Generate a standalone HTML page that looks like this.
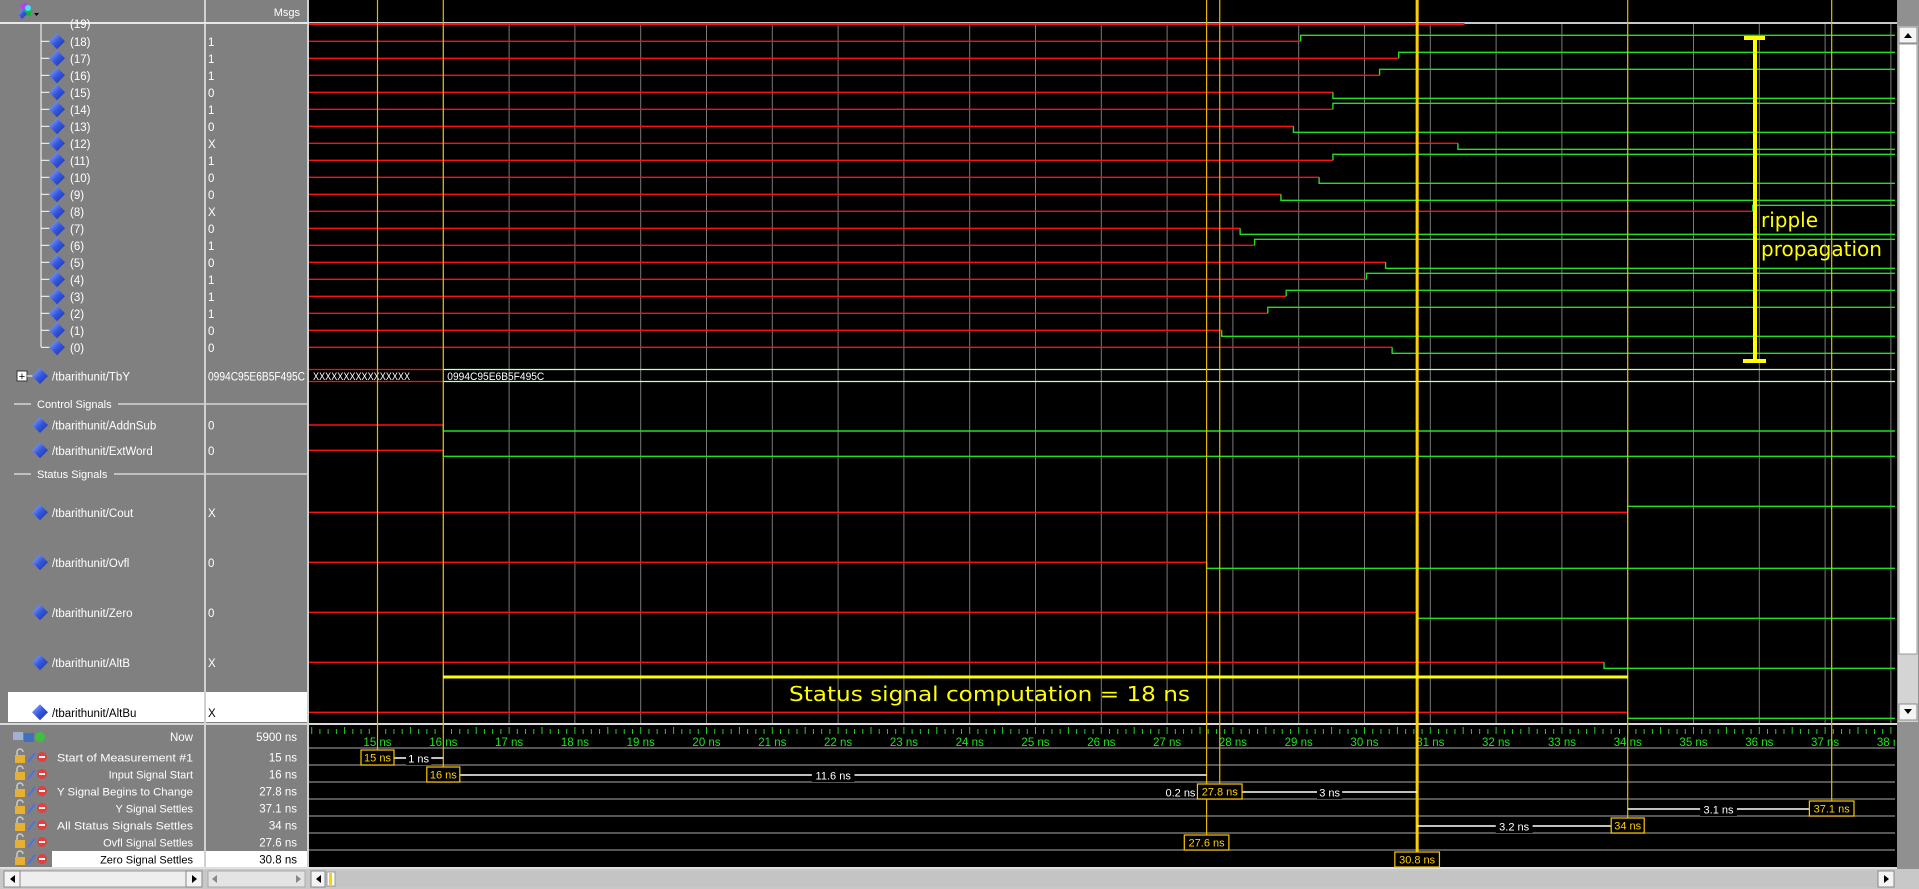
<!DOCTYPE html>
<html><head><meta charset="utf-8"><style>
html,body{margin:0;padding:0;background:#808080;width:1919px;height:889px;overflow:hidden}
svg{display:block}
text{font-family:"Liberation Sans",sans-serif}
</style></head><body>
<svg id="root" width="1919" height="889" viewBox="0 0 1919 889" xmlns="http://www.w3.org/2000/svg">
<defs>
<linearGradient id="dg" x1="0" y1="0" x2="1" y2="1"><stop offset="0" stop-color="#9fb8ff"/><stop offset="0.5" stop-color="#3558e0"/><stop offset="1" stop-color="#1a2f9a"/></linearGradient>
<clipPath id="wclip"><rect x="309" y="0" width="1586" height="889"/></clipPath>
</defs>
<rect x="0" y="0" width="1919" height="889" fill="#808080"/>
<rect x="204" y="0" width="2" height="869" fill="#d0d0d0"/>
<rect x="307" y="0" width="2" height="869" fill="#d0d0d0"/>
<rect x="309" y="0" width="1588" height="868" fill="#000"/>
<rect x="0" y="22" width="309" height="2" fill="#e8e8e8"/>
<rect x="309" y="22" width="1588" height="2" fill="#c8c8c8"/>
<rect x="0" y="723" width="1897" height="2" fill="#d8d8d8"/>
<rect x="0" y="867" width="1919" height="2" fill="#e0e0e0"/>
<g>
<polygon points="20,6 26,2 30,8 24,12" fill="#b040ff"/><rect x="24" y="9" width="7" height="7" fill="#20b040"/><circle cx="28" cy="8" r="3" fill="#40e0ff"/><polygon points="18,14 22,9 27,14 22,19" fill="url(#dg)"/><polygon points="34,13 39,13 36.5,16" fill="#000"/>
</g>
<text x="300" y="16" font-size="11" fill="#fff" text-anchor="end">Msgs</text>
<rect x="8" y="692" width="196" height="30" fill="#fff"/>
<rect x="206" y="692" width="101" height="30" fill="#fff"/>
<rect x="52" y="851" width="152" height="16" fill="#fff"/>
<rect x="206" y="851" width="101" height="16" fill="#fff"/>
<g id="names"></g>
<g id="waves" clip-path="url(#wclip)"></g>
<g id="cursors"></g>
<g>
<rect x="1753" y="38" width="4" height="323" fill="#ffff00"/>
<rect x="1744" y="36" width="21" height="4" fill="#ffff00"/>
<rect x="1743" y="359" width="23" height="4" fill="#ffff00"/>
<text x="1761" y="227" font-size="20" fill="#ffff00" style="font-family:'DejaVu Sans',sans-serif">ripple</text>
<text x="1761" y="256" font-size="20" fill="#ffff00" style="font-family:'DejaVu Sans',sans-serif">propagation</text>
</g>
<g>
<rect x="443" y="675.5" width="1185" height="3" fill="#ffff00"/>
<text x="789" y="701" font-size="20" fill="#ffff00" textLength="401" lengthAdjust="spacingAndGlyphs" style="font-family:'DejaVu Sans',sans-serif">Status signal computation = 18 ns</text>
</g>
<g>
<rect x="1897" y="0" width="22" height="869" fill="#909090"/>
<rect x="1898" y="26" width="20" height="696" fill="#d4d4d4"/>
<rect x="1899" y="27" width="18" height="16" fill="#f4f4f4" stroke="#888"/>
<polygon points="1904,38 1912,38 1908,33" fill="#000"/>
<rect x="1899" y="44" width="18" height="610" fill="#fff" stroke="#999"/>
<rect x="1899" y="704" width="18" height="16" fill="#f4f4f4" stroke="#888"/>
<polygon points="1904,709 1912,709 1908,714" fill="#000"/>
</g>
<g>
<rect x="0" y="869" width="1919" height="20" fill="#c8c8c8"/>
<rect x="4" y="871" width="198" height="16" fill="#eee" stroke="#999"/>
<rect x="4" y="871" width="16" height="16" fill="#f4f4f4" stroke="#888"/><polygon points="15,875 15,883 10,879" fill="#000"/>
<rect x="186" y="871" width="16" height="16" fill="#f4f4f4" stroke="#888"/><polygon points="192,875 192,883 197,879" fill="#000"/>
<rect x="208" y="871" width="97" height="16" fill="#e4e4e4" stroke="#aaa"/>
<polygon points="217,875 217,883 212,879" fill="#888"/><polygon points="296,875 296,883 301,879" fill="#888"/>
<rect x="311" y="871" width="1584" height="16" fill="#c4c4c4"/>
<rect x="311" y="871" width="14" height="16" fill="#f4f4f4" stroke="#888"/><polygon points="321,875 321,883 316,879" fill="#000"/>
<rect x="327" y="872" width="8" height="14" fill="#fff" stroke="#999"/><rect x="329" y="873" width="3" height="12" fill="#ffd000"/>
<rect x="1878" y="871" width="16" height="16" fill="#f4f4f4" stroke="#888"/><polygon points="1884,875 1884,883 1889,879" fill="#000"/>
</g>
</svg>
<script>
const bitIndex = [18,17,16,15,14,13,12,11,10,9,8,7,6,5,4,3,2,1,0];
const bitValues = ['1','1','1','0','1','0','X','1','0','0','X','0','1','0','1','1','1','0','0'];
const bitSettleTimes = [29.03,30.52,30.23,29.52,29.52,28.92,31.42,29.52,29.31,28.73,35.9,28.11,28.33,30.32,30.03,28.81,28.53,27.83,30.42];
const bitFinalLevels = [1,1,1,0,1,0,0,1,0,0,1,0,1,0,1,1,1,0,0];
const bit19EndTime = 31.52;
const busStartTime = 16;
const busOldValue = 'XXXXXXXXXXXXXXXX';
const busNewValue = '0994C95E6B5F495C';
const controlNames = ['AddnSub','ExtWord'];
const controlValues = ['0','0'];
const controlTimes = [16,16];
const controlLevels = [0,0];
const statusNames = ['Cout','Ovfl','Zero','AltB','AltBu'];
const statusValues = ['X','0','0','X','X'];
const statusTimes = [34,27.6,30.8,33.64,34];
const statusLevels = [1,0,0,0,0];
const tickLabels = [15,16,17,18,19,20,21,22,23,24,25,26,27,28,29,30,31,32,33,34,35,36,37,38];
const cursorNames = ['Start of Measurement #1','Input Signal Start','Y Signal Begins to Change','Y Signal Settles','All Status Signals Settles','Ovfl Signal Settles','Zero Signal Settles'];
const cursorTimes = [15,16,27.8,37.1,34,27.6,30.8];
const cursorLabels = ['15 ns','16 ns','27.8 ns','37.1 ns','34 ns','27.6 ns','30.8 ns'];
const intervalRows = [0,1,2,3,4];
const intervalFrom = [15,16,27.8,34,30.8];
const intervalTo = [16,27.6,30.8,37.1,34];
const intervalLabels = ['1 ns','11.6 ns','3 ns','3.1 ns','3.2 ns'];
const nowValue = '5900 ns';

const T0 = 15, PX = 65.8, X0 = 377.5, WL = 309, WR = 1895;
function xs(t){ return X0 + (t - T0) * PX; }
const NS = 'http://www.w3.org/2000/svg';
function mk(parent, tag, attrs, txt){
  const e = document.createElementNS(NS, tag);
  for (const k in attrs) e.setAttribute(k, attrs[k]);
  if (txt !== undefined) e.textContent = txt;
  parent.appendChild(e);
  return e;
}
const names = document.getElementById('names');
const waves = document.getElementById('waves');
const curs = document.getElementById('cursors');
const RED = '#ff1010', GREEN = '#20e020';
const FS = 11.5;

function diamond(parent, cx, cy){
  const d = mk(parent, 'polygon', {points:`${cx},${cy-8} ${cx+8},${cy} ${cx},${cy+8} ${cx-8},${cy}`, fill:'url(#dg)'});
  
  
}

for (let t = 15; t <= 38; t++){
  const g = mk(waves, 'line', {x1:xs(t), x2:xs(t), y1:24, y2:723, stroke:'#7a7a7a', 'stroke-width':1});
  
  
}

const tl = mk(names, 'line', {x1:41, x2:41, y1:24, y2:347, stroke:'#fff', 'stroke-width':1});



const b19 = mk(waves, 'line', {x1:WL, x2:xs(bit19EndTime), y1:24, y2:24, stroke:RED, 'stroke-width':2});


const n19 = mk(names, 'text', {x:70, y:28, 'font-size':FS, fill:'#fff'}, '(19)');



function drawWave(name, cy, tChange, level){
  const g = mk(waves, 'g', {});
  
  
  const xc = xs(tChange);
  const ly = level ? cy - 6 : cy + 6;
  mk(g, 'polyline', {points:`${WL},${cy} ${xc},${cy}`, fill:'none', stroke:RED, 'stroke-width':1.4});
  mk(g, 'polyline', {points:`${xc},${cy} ${xc},${ly} ${WR},${ly}`, fill:'none', stroke:GREEN, 'stroke-width':1.4});
}

bitIndex.forEach((b, i) => {
  const cy = 41.3 + i * 17;
  const h = mk(names, 'line', {x1:41, x2:52, y1:cy, y2:cy, stroke:'#fff'});
  
  
  diamond(names, 57, cy);
  const t = mk(names, 'text', {x:70, y:cy+4.5, 'font-size':FS, fill:'#fff'}, '(' + b + ')');
  
  
  const v = mk(names, 'text', {x:208, y:cy+4.5, 'font-size':FS, fill:'#fff'}, bitValues[i]);
  
  
  drawWave('wave-bit-' + b, cy, bitSettleTimes[i], bitFinalLevels[i]);
});

{
  const cy = 376;
  const pb = mk(names, 'rect', {x:17, y:cy-5, width:10, height:10, fill:'#fff', stroke:'#333'});
  
  
  mk(names, 'text', {x:22, y:cy+4, 'font-size':11, fill:'#000', 'text-anchor':'middle'}, '+');
  mk(names, 'line', {x1:27, x2:33, y1:cy, y2:cy, stroke:'#fff'});
  diamond(names, 40, cy);
  const t = mk(names, 'text', {x:52, y:cy+4.5, 'font-size':FS, fill:'#fff'}, '/tbarithunit/TbY');
  
  
  const v = mk(names, 'text', {x:208, y:cy+4.5, 'font-size':11.5, fill:'#fff', textLength:97, lengthAdjust:'spacingAndGlyphs'}, busNewValue);
  
  
  const g = mk(waves, 'g', {});
  
  
  const xb = xs(busStartTime);
  mk(g, 'line', {x1:WL, x2:xb, y1:cy-6.5, y2:cy-6.5, stroke:RED, 'stroke-width':1.3});
  mk(g, 'line', {x1:WL, x2:xb, y1:cy+5.5, y2:cy+5.5, stroke:RED, 'stroke-width':1.3});
  mk(g, 'line', {x1:xb, x2:WR, y1:cy-6.5, y2:cy-6.5, stroke:'#c8ffc8', 'stroke-width':1.3});
  mk(g, 'line', {x1:xb, x2:WR, y1:cy+5.5, y2:cy+5.5, stroke:'#c8ffc8', 'stroke-width':1.3});
  mk(g, 'text', {x:WL+4, y:cy+4, 'font-size':11, fill:'#fff', textLength:97, lengthAdjust:'spacingAndGlyphs'}, busOldValue);
  mk(g, 'text', {x:xb+4, y:cy+4, 'font-size':11, fill:'#fff', textLength:97, lengthAdjust:'spacingAndGlyphs'}, busNewValue);
}

function groupHeader(label, cy, w){
  const g = mk(names, 'g', {});
  
  
  mk(g, 'line', {x1:14, x2:31, y1:cy, y2:cy, stroke:'#fff'});
  mk(g, 'text', {x:37, y:cy+4, 'font-size':11, fill:'#fff'}, label);
  mk(g, 'line', {x1:40+w, x2:204, y1:cy, y2:cy, stroke:'#fff'});
  mk(g, 'line', {x1:206, x2:307, y1:cy, y2:cy, stroke:'#fff'});
}
groupHeader('Control Signals', 404, 78);
groupHeader('Status Signals', 474, 74);

const controlY = [425, 450.3];
controlNames.forEach((n, i) => {
  const cy = controlY[i];
  diamond(names, 40, cy);
  const t = mk(names, 'text', {x:52, y:cy+4.5, 'font-size':FS, fill:'#fff'}, '/tbarithunit/' + n);
  
  
  const v = mk(names, 'text', {x:208, y:cy+4.5, 'font-size':FS, fill:'#fff'}, controlValues[i]);
  
  
  drawWave('wave-' + n.toLowerCase(), cy, controlTimes[i], controlLevels[i]);
});

const statusY = [512.3, 562.3, 612.3, 662.3, 712.3];
statusNames.forEach((n, i) => {
  const cy = statusY[i];
  const dark = (i === 4);
  diamond(names, 40, cy);
  const t = mk(names, 'text', {x:52, y:cy+4.5, 'font-size':FS, fill: dark ? '#000' : '#fff'}, '/tbarithunit/' + n);
  
  
  const v = mk(names, 'text', {x:208, y:cy+4.5, 'font-size':FS, fill: dark ? '#000' : '#fff'}, statusValues[i]);
  
  
  drawWave('wave-' + n.toLowerCase(), cy, statusTimes[i], statusLevels[i]);
});

{
  const g = mk(waves, 'g', {});
  
  
  for (let k = 14 * 8; k <= 39 * 8; k++){
    const t = k / 8;
    const x = xs(t);
    const long = (k % 4 === 0);
    mk(g, 'line', {x1:x, x2:x, y1: long ? 727 : 729, y2:734, stroke:'#20d020', 'stroke-width':1});
  }
  tickLabels.forEach(v => {
    const lab = mk(g, 'text', {x:xs(v), y:746, 'font-size':11.5, fill:'#20e020', 'text-anchor':'middle'}, v + ' ns');
    
    
  });
}

const rowSep = [748, 765, 782, 799, 816, 833, 850];
rowSep.forEach(y => {
  const l = mk(curs, 'line', {x1:WL, x2:WR, y1:y, y2:y, stroke:'#8a8a8a', 'stroke-width':1.2});
  
  
});
function rowY(i){ return 757 + i * 17; }

cursorTimes.forEach((t, i) => {
  const thick = (i === 6);
  const l = mk(curs, 'line', {x1:xs(t), x2:xs(t), y1:0, y2:rowY(i) - 7, stroke: thick ? '#ffd000' : '#e8b800', 'stroke-width': thick ? 3 : 1.2});
  
  
});

function textW(s){ return s.length * 5.8; }
function boxW(s){ return textW(s) + 4; }
intervalRows.forEach((r, j) => {
  const y = rowY(r) + 1;
  let xa = xs(intervalFrom[j]), xb = xs(intervalTo[j]);
  const fromIsBox = (cursorTimes[r] === intervalFrom[j]);
  if (fromIsBox) xa += boxW(cursorLabels[r]) / 2; else xb -= boxW(cursorLabels[r]) / 2;
  const g = mk(curs, 'g', {});
  
  
  mk(g, 'line', {x1:xa, x2:xb, y1:y, y2:y, stroke:'#fff', 'stroke-width':1.4});
  const mx = (xa + xb) / 2, w = textW(intervalLabels[j]);
  mk(g, 'rect', {x:mx - w/2 - 1, y:y - 7, width:w + 2, height:14, fill:'#000'});
  mk(g, 'text', {x:mx, y:y + 4.5, 'font-size':11, fill:'#fff', 'text-anchor':'middle'}, intervalLabels[j]);
});
{
  const x = xs(27.8) - boxW('27.8 ns') / 2 - 2;
  const t = mk(curs, 'text', {x:x, y:rowY(2) + 5.5, 'font-size':11, fill:'#fff', 'text-anchor':'end'}, '0.2 ns');
  
  
}

cursorTimes.forEach((t, i) => {
  const w = boxW(cursorLabels[i]);
  const g = mk(curs, 'g', {});
  
  
  mk(g, 'rect', {x:xs(t) - w/2, y:rowY(i) - 7, width:w, height:15, fill:'#000', stroke:'#ffc800', 'stroke-width':1.2});
  mk(g, 'text', {x:xs(t), y:rowY(i) + 4.5, 'font-size':11, fill:'#ffd000', 'text-anchor':'middle'}, cursorLabels[i]);
});

{
  const g = mk(names, 'g', {});
  
  
  mk(g, 'rect', {x:13, y:732, width:10, height:8, fill:'#a0b0d0'});
  mk(g, 'rect', {x:24, y:733, width:10, height:9, fill:'#4070c0'});
  mk(g, 'circle', {cx:40, cy:737, r:5, fill:'#40c040'});
  const n = mk(names, 'text', {x:193, y:741, 'font-size':FS, fill:'#fff', 'text-anchor':'end'}, 'Now');
  
  
  const v = mk(names, 'text', {x:297, y:741, 'font-size':FS, fill:'#fff', 'text-anchor':'end'}, nowValue);
  
  
}
cursorNames.forEach((s, i) => {
  const y = rowY(i);
  const sel = (i === 6);
  const g = mk(names, 'g', {});
  
  
  mk(g, 'rect', {x:15, y:y-2, width:10, height:8, fill:'#e8b030'});
  mk(g, 'path', {d:`M17 ${y-2} v-3 a3 3 0 0 1 6 0`, fill:'none', stroke:'#ccc', 'stroke-width':1.5});
  mk(g, 'line', {x1:28, y1:y+5, x2:35, y2:y-4, stroke:'#5070e0', 'stroke-width':2});
  mk(g, 'circle', {cx:42, cy:y, r:5, fill:'#e04040'});
  mk(g, 'rect', {x:39, y:y-1, width:6, height:2, fill:'#fff'});
  const attrs = {x:193, y:y+4.5, 'font-size':11, fill: sel ? '#000' : '#fff', 'text-anchor':'end'};
  if (s.length > 22) { attrs.textLength = 136; attrs.lengthAdjust = 'spacingAndGlyphs'; }
  const t = mk(names, 'text', attrs, s);
  
  
  const v = mk(names, 'text', {x:297, y:y+4.5, 'font-size':FS, fill: sel ? '#000' : '#fff', 'text-anchor':'end'}, cursorLabels[i]);
  
  
});
</script>
</body></html>
